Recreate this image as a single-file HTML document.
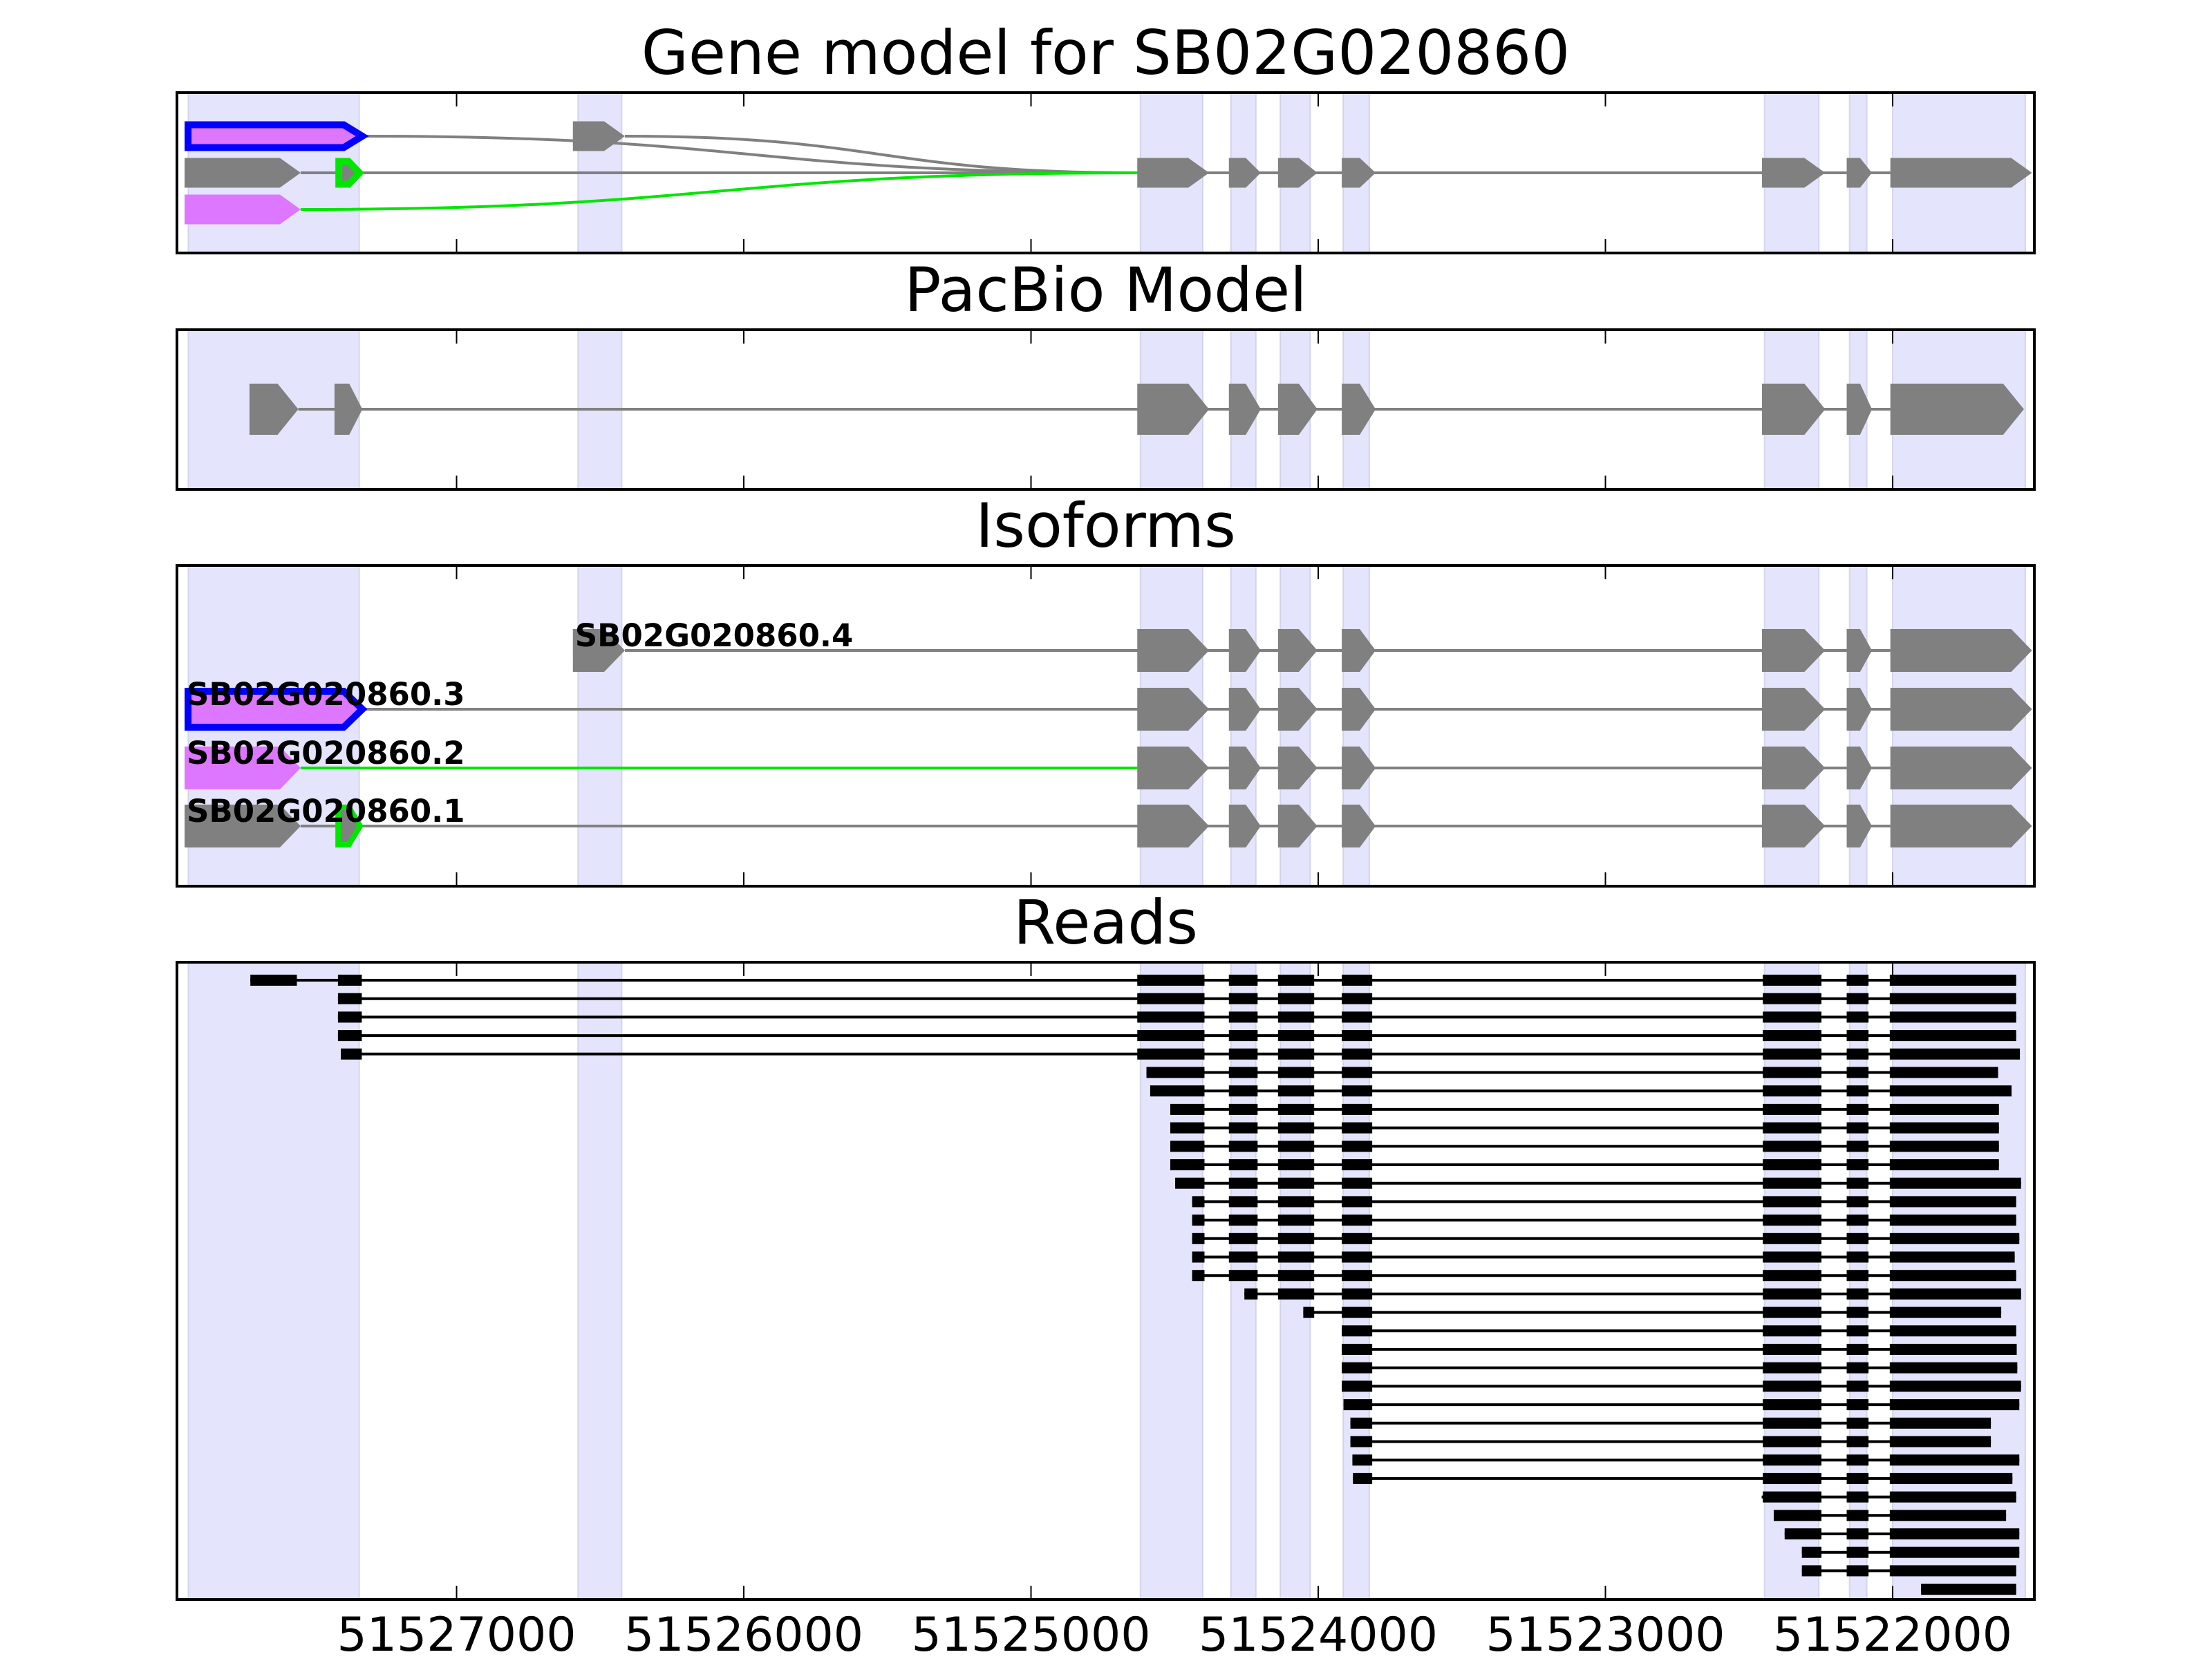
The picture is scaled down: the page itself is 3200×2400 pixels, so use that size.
<!DOCTYPE html>
<html><head><meta charset="utf-8"><style>html,body{margin:0;padding:0;background:#fff}svg{display:block}</style></head>
<body>
<svg id="chart" xmlns="http://www.w3.org/2000/svg" width="3200" height="2400" viewBox="0 0 3200 2400"></svg>
<script>
// ---- data ----
const tickValues = [51527000, 51526000, 51525000, 51524000, 51523000, 51522000];
const tickLabels = ["51527000", "51526000", "51525000", "51524000", "51523000", "51522000"];
const panelTitles = ["Gene model for SB02G020860", "PacBio Model", "Isoforms", "Reads"];
const shadeRegions = [[51527934,51527339],[51526577,51526425],[51524619,51524402],[51524304,51524217],[51524132,51524028],[51523913,51523822],[51522446,51522257],[51522150,51522090],[51522000,51521538]];
const geneExons = [[51524630,51524380],[51524311,51524200],[51524140,51524003],[51523918,51523800],[51522455,51522235],[51522160,51522072],[51522008,51521515]];
const utr1Blocks = [[51527947,51527543],[51527422,51527326]];
const utr2Blocks = [[51527947,51527543]];
const utr3Blocks = [[51527947,51527316]];
const utr4Blocks = [[51526595,51526414]];
const isoformNames = ["SB02G020860.4","SB02G020860.3","SB02G020860.2","SB02G020860.1"];
const pacbioBlocks = [[51527721,51527551],[51527425,51527328],[51524630,51524380],[51524311,51524200],[51524140,51524003],[51523918,51523800],[51522455,51522235],[51522160,51522072],[51522008,51521543]];
const readExonTemplate = [[51527718,51527556],[51527413,51527330],[51524630,51524396],[51524311,51524211],[51524140,51524014],[51523918,51523812],[51522452,51522248],[51522160,51522084],[51522010,51521400]];
const readStarts = [51527718,51527413,51527413,51527413,51527403,51524598,51524585,51524515,51524515,51524515,51524515,51524498,51524439,51524439,51524439,51524439,51524439,51524257,51524052,51523918,51523918,51523918,51523918,51523912,51523888,51523888,51523881,51523879,51522456,51522414,51522376,51522316,51522316,51521901];
const readEnds = [51521570,51521570,51521570,51521570,51521557,51521633,51521586,51521630,51521630,51521630,51521630,51521553,51521570,51521570,51521559,51521575,51521570,51521553,51521622,51521570,51521568,51521566,51521553,51521559,51521658,51521658,51521559,51521583,51521570,51521605,51521559,51521559,51521570,51521570];

// ---- layout ----
const NS = "http://www.w3.org/2000/svg";
const svg = document.getElementById('chart');
const L = 256, R = 2943;
const panels = [[134,366],[477,708],[818,1282],[1392,2314]];
const titleBase = [107,450,791,1365];
function x(pos){ return 660.5 + (51527000 - pos) * 0.4155; }
function mk(tag, attrs, parent){ const e = document.createElementNS(NS, tag); for (const k in attrs) e.setAttribute(k, attrs[k]); (parent||svg).appendChild(e); return e; }
const GREY = "#808080", VIOLET = "#dd77ff", BLUE = "#0000ff", GREEN = "#00e600";

function arrowPts(x1, x2, yc, h, inset){
  const w = x2 - x1; const head = Math.min(30, w * 0.47);
  const s = inset || 0;
  const yt = yc - h/2 + s, yb = yc + h/2 - s;
  const a = x1 + s, t = x2 - s, hx = x2 - head - s*0.4;
  return `${a},${yt} ${hx},${yt} ${t},${yc} ${hx},${yb} ${a},${yb}`;
}
function block(g, b, yc, h, fill, stroke, sw, name){
  const x1 = x(b[0]), x2 = x(b[1]);
  const p = mk('polygon', {points: arrowPts(x1, x2, yc, h, stroke ? sw/2 : 0), fill: fill}, g);
  if (stroke){ p.setAttribute('stroke', stroke); p.setAttribute('stroke-width', sw); p.setAttribute('stroke-linejoin','miter'); }
  
  
  return p;
}
function line(g, a, b, y, color, sw, name){
  const l = mk('line', {x1: x(a), x2: x(b), y1: y, y2: y, stroke: color, 'stroke-width': sw}, g);
  
  
}
function curve(g, a, ya, b, yb, color, name){
  const x0 = x(a), x1 = x(b), m = (x0 + x1) / 2;
  const p = mk('path', {d: `M${x0},${ya} C${m},${ya} ${m},${yb} ${x1},${yb}`, fill: 'none', stroke: color, 'stroke-width': 4}, g);
  
  
}

panels.forEach((p, pi) => {
  const g = mk('g', {});
  
  
  const t = mk('text', {x: (L+R)/2, y: titleBase[pi], 'text-anchor': 'middle', 'font-family': '"DejaVu Sans","Liberation Sans",sans-serif', 'font-size': 88, fill: '#000'}, g);
  t.textContent = panelTitles[pi];
  
  
  shadeRegions.forEach(s => {
    const r = mk('rect', {x: x(s[0]), y: p[0], width: x(s[1]) - x(s[0]), height: p[1] - p[0], fill: 'rgb(228,228,252)', stroke: 'rgba(205,205,232,0.8)', 'stroke-width': 2}, g);
    
    
  });
  tickValues.forEach(v => {
    const tx = x(v);
    const a = mk('line', {x1: tx, x2: tx, y1: p[0], y2: p[0] + 20, stroke: '#000', 'stroke-width': 2}, g);
    
    
    const b = mk('line', {x1: tx, x2: tx, y1: p[1] - 20, y2: p[1], stroke: '#000', 'stroke-width': 2}, g);
    
    
  });
});

// Panel 1: gene model
(function(){
  const g = mk('g', {});
  
  
  const y1 = 197, y2 = 250, y3 = 303, h = 43;
  const e1 = geneExons[0][0], e7 = geneExons[geneExons.length-1][0];
  line(g, utr1Blocks[0][1], e7, y2, GREY, 4, 'isoform-1-intron');
  curve(g, utr3Blocks[0][1], y1, e1, y2, GREY, 'isoform-3-junction');
  curve(g, utr4Blocks[0][1], y1, e1, y2, GREY, 'isoform-4-junction');
  curve(g, utr2Blocks[0][1], y3, e1, y2, GREEN, 'isoform-2-junction');
  block(g, utr3Blocks[0], y1, h, VIOLET, BLUE, 10, 'isoform-3-utr');
  block(g, utr4Blocks[0], y1, h, GREY, null, 0, 'isoform-4-exon');
  block(g, utr1Blocks[0], y2, h, GREY, null, 0, 'isoform-1-exon');
  block(g, utr1Blocks[1], y2, h, GREY, GREEN, 10, 'isoform-1-alt-exon');
  block(g, utr2Blocks[0], y3, h, VIOLET, null, 0, 'isoform-2-utr');
  geneExons.forEach(e => block(g, e, y2, h, GREY, null, 0, 'shared-exon'));
})();

// Panel 2: PacBio
(function(){
  const g = mk('g', {});
  
  
  const yc = 592;
  line(g, pacbioBlocks[0][1], pacbioBlocks[pacbioBlocks.length-1][0], yc, GREY, 4, 'pacbio-intron');
  pacbioBlocks.forEach(b => block(g, b, yc, 74, GREY, null, 0, 'pacbio-exon'));
})();

// Panel 3: Isoforms
(function(){
  const g = mk('g', {});
  
  
  const rows = [941, 1026, 1111, 1195], h = 62;
  const e7 = geneExons[geneExons.length-1][0], e1 = geneExons[0][0];
  const firsts = [utr4Blocks, utr3Blocks, utr2Blocks, utr1Blocks];
  const lineColors = [GREY, GREY, GREEN, GREY];
  firsts.forEach((fb, i) => {
    const yc = rows[i];
    if (lineColors[i] === GREEN){
      line(g, fb[0][1], e1, yc, GREEN, 4, 'isoform-intron');
      line(g, e1, e7, yc, GREY, 4, 'isoform-intron');
    } else line(g, fb[0][1], e7, yc, GREY, 4, 'isoform-intron');
    if (i === 1) block(g, fb[0], yc, h, VIOLET, BLUE, 10, 'isoform-utr');
    else if (i === 2) block(g, fb[0], yc, h, VIOLET, null, 0, 'isoform-utr');
    else if (i === 3){ block(g, fb[0], yc, h, GREY, null, 0, 'isoform-exon'); block(g, fb[1], yc, h, GREY, GREEN, 8, 'isoform-alt-exon'); }
    else block(g, fb[0], yc, h, GREY, null, 0, 'isoform-exon');
    geneExons.forEach(e => block(g, e, yc, h, GREY, null, 0, 'isoform-exon'));
    const t = mk('text', {x: x(fb[0][0]) + 3, y: yc - 6, 'font-family': '"DejaVu Sans","Liberation Sans",sans-serif', 'font-weight': 'bold', 'font-size': 45, fill: '#000'}, g);
    t.textContent = isoformNames[i];
    
    
  });
})();

// Panel 4: Reads
(function(){
  const g = mk('g', {});
  
  
  readStarts.forEach((st, i) => {
    const en = readEnds[i];
    const yc = 1418 + i * 26.7;
    line(g, st, en, yc, '#000', 4, 'read-line');
    readExonTemplate.forEach(ex => {
      const hi = Math.min(ex[0], st), lo = Math.max(ex[1], en);
      if (hi > lo){
        const r = mk('rect', {x: x(hi), y: yc - 8, width: x(lo) - x(hi), height: 16, fill: '#000'}, g);
        
        
      }
    });
  });
})();

// frames and tick labels
panels.forEach(p => {
  const r = mk('rect', {x: L, y: p[0], width: R - L, height: p[1] - p[0], fill: 'none', stroke: '#000', 'stroke-width': 4});
  
  
});
tickValues.forEach((v, i) => {
  const t = mk('text', {x: x(v), y: 2388, 'text-anchor': 'middle', 'font-family': '"DejaVu Sans","Liberation Sans",sans-serif', 'font-size': 68, fill: '#000'});
  t.textContent = tickLabels[i];
  
  
});
</script>
</body></html>
